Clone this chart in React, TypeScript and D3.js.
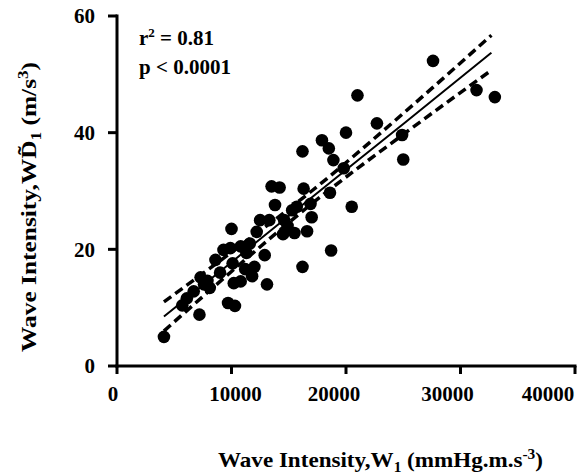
import React from "react";
import * as d3 from "d3";

// W1 (mmHg.m.s-3) vs WD1 (m/s3)
const waveX = [
  4100, 5700, 6100, 6700, 7200, 7300, 7600, 7900, 8100, 8600, 9000, 9300, 9700,
  9900, 10000, 10100, 10300, 10200, 10800, 10800, 11200, 11300, 11600, 11800,
  12000, 12200, 12500, 12900, 13100, 13300, 13500, 13800, 14200, 14500, 14600,
  14900, 15300, 15500, 15700, 16200, 16200, 16300, 16600, 16900, 17000, 17900,
  18500, 18600, 18700, 18900, 19800, 20000, 20500, 21000, 22700, 24900, 25000,
  27600, 31400, 33000,
];
const waveY = [
  5.0, 10.4, 11.6, 12.8, 8.8, 15.2, 14.0, 14.6, 13.4, 18.2, 16.0, 19.9, 10.8,
  20.2, 23.5, 17.6, 10.3, 14.2, 14.5, 20.5, 16.6, 19.4, 21.0, 15.4, 17.0, 23.0,
  25.0, 19.0, 14.0, 25.0, 30.8, 27.6, 30.6, 22.6, 25.0, 24.0, 26.7, 22.8, 27.3,
  36.8, 17.0, 30.4, 23.1, 27.8, 25.5, 38.7, 37.3, 29.7, 19.8, 35.3, 33.9, 40.0,
  27.3, 46.4, 41.6, 39.6, 35.4, 52.3, 47.3, 46.1,
];

// regression line and 95% band, read at a few x positions
const bandX = [4100, 10000, 17000, 25000, 32700];
const fitY = [8.5, 17.8, 28.9, 41.5, 53.7];
const upperY = [11.0, 19.5, 30.0, 43.3, 56.7];
const lowerY = [6.0, 16.2, 27.8, 39.7, 50.7];

const xTicks = [0, 10000, 20000, 30000, 40000];
const yTicks = [0, 20, 40, 60];
// x tick labels sit a little off their ticks in the original
const xLabelShift = [-4, 4, -12, -13, -27];

const W = 580;
const H = 475;
const m = { left: 117, right: 5, top: 16, bottom: 109 };
const font = "Liberation Serif";

export default function App() {
  const x = d3.scaleLinear().domain([0, 40000]).range([m.left, W - m.right]);
  const y = d3.scaleLinear().domain([0, 60]).range([H - m.bottom, m.top]);

  const line = (ys: number[]) =>
    d3
      .line<number>()
      .x((_, i) => x(bandX[i]))
      .y((v) => y(v))
      .curve(d3.curveMonotoneX)(ys) || "";

  const x0 = x(0);
  const y0 = y(0);

  return (
    <div style={{ position: "absolute", left: 0, top: 0 }}>
      <svg width={W} height={H} style={{ display: "block", background: "#fff", fontFamily: font, fontWeight: "bold" }}>
        <g fill="#000">
          {/* axes */}
          <line x1={x0} x2={x0} y1={y(60) - 1.5} y2={y0 + 1.5} stroke="#000" strokeWidth={3} />
          <line x1={x0 - 1.5} x2={x(40000) + 1.5} y1={y0} y2={y0} stroke="#000" strokeWidth={3} />
          {yTicks.map((t) => (
            <g key={"y" + t}>
              <line x1={x0 - 9} x2={x0} y1={y(t)} y2={y(t)} stroke="#000" strokeWidth={3} />
              <text x={x0 - 22} y={y(t)} dy="0.35em" textAnchor="end" fontSize={21}>
                {t}
              </text>
            </g>
          ))}
          {xTicks.map((t, i) => (
            <g key={"x" + t}>
              <line x1={x(t)} x2={x(t)} y1={y0} y2={y0 + 8} stroke="#000" strokeWidth={3} />
              <text x={x(t) + xLabelShift[i]} y={401} textAnchor="middle" fontSize={21}>
                {t}
              </text>
            </g>
          ))}

          {/* points */}
          {waveX.map((v, i) => (
            <circle key={i} cx={x(v)} cy={y(waveY[i])} r={6.3} fill="#000" />
          ))}

          {/* fit + band */}
          <path d={line(fitY)} fill="none" stroke="#000" strokeWidth={2} />
          <path d={line(upperY)} fill="none" stroke="#000" strokeWidth={3.5} strokeDasharray="9,5" />
          <path d={line(lowerY)} fill="none" stroke="#000" strokeWidth={3.5} strokeDasharray="9,5" />

          {/* stats */}
          <text x={139} y={45} fontSize={21}>
            <tspan>r</tspan>
            <tspan dy={-8} fontSize={13}>2</tspan>
            <tspan dy={8}> = 0.81</tspan>
          </text>
          <text x={139} y={74} fontSize={21}>
            p &lt; 0.0001
          </text>

          {/* axis titles */}
          <text x={218} y={467} fontSize={21} textLength={325} lengthAdjust="spacingAndGlyphs">
            <tspan>Wave Intensity,W</tspan>
            <tspan dy={5} fontSize={14}>1</tspan>
            <tspan dy={-5}> (mmHg.m.s</tspan>
            <tspan dy={-8} fontSize={14}>-3</tspan>
            <tspan dy={8}>)</tspan>
          </text>
          <text
            transform="translate(36,352) rotate(-90)"
            fontSize={21}
            textLength={290}
            lengthAdjust="spacingAndGlyphs"
          >
            <tspan>Wave Intensity,WD{"\u0303"}</tspan>
            <tspan dy={5} fontSize={14}>1</tspan>
            <tspan dy={-5}> (m/s</tspan>
            <tspan dy={-8} fontSize={14}>3</tspan>
            <tspan dy={8}>)</tspan>
          </text>
        </g>
      </svg>
    </div>
  );
}
